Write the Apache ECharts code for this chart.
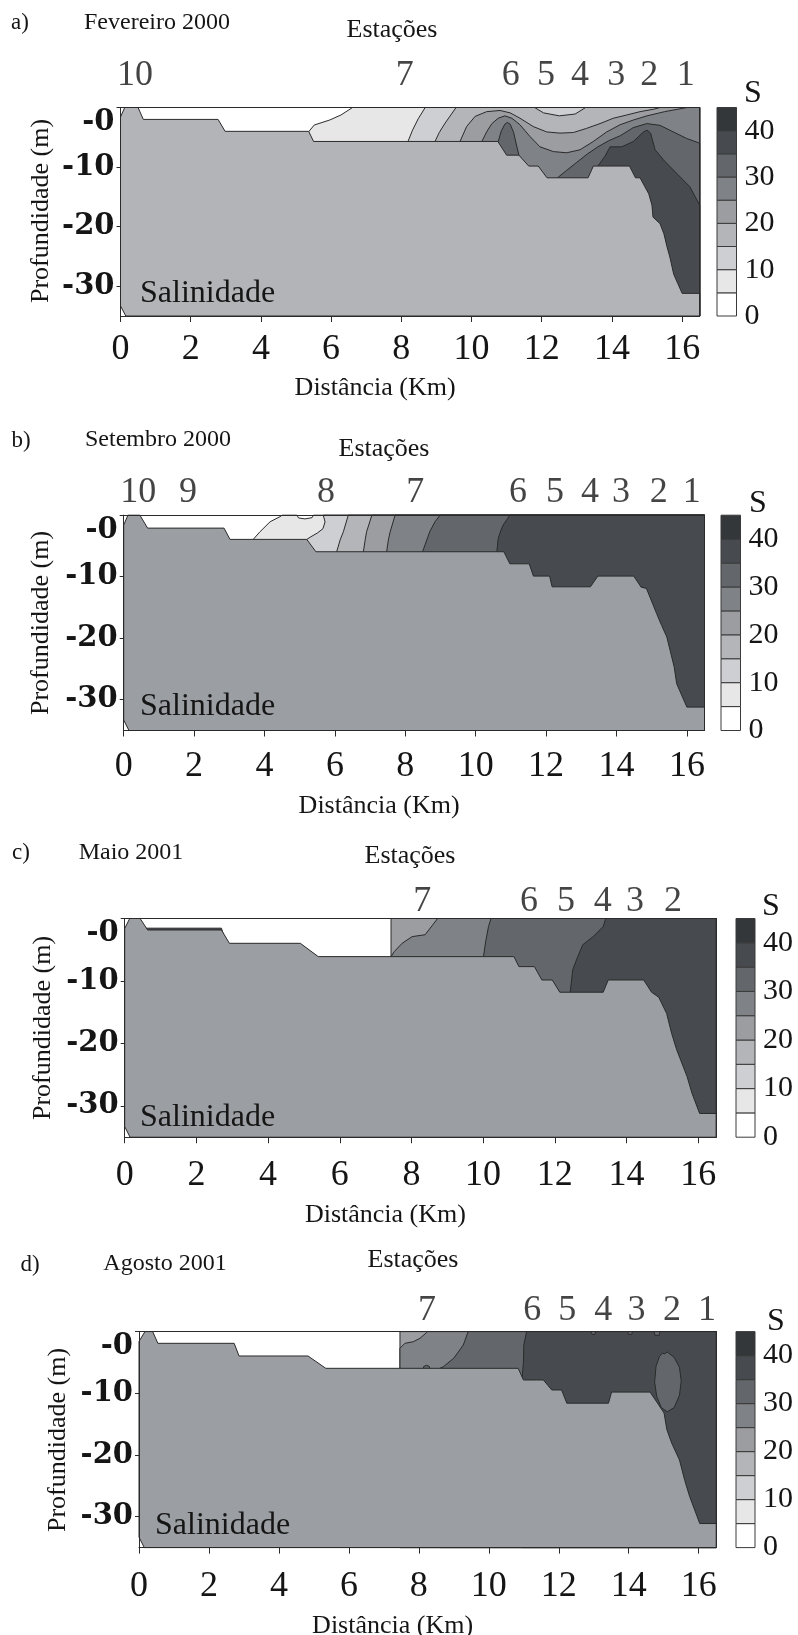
<!DOCTYPE html>
<html>
<head>
<meta charset="utf-8">
<script src="https://cdn.jsdelivr.net/npm/echarts@6/dist/echarts.min.js"></script>
<style>
  html, body { margin: 0; padding: 0; background: #ffffff; }
  #chart { width: 798px; height: 1635px; }
</style>
</head>
<body>
<div id="chart"></div>
<script>
// ---- axes and colour scale -------------------------------------------
const xTicks = [0, 2, 4, 6, 8, 10, 12, 14, 16];
const yTicks = [-30, -20, -10, 0];
const scaleTicks = [0, 10, 20, 30, 40];
const scaleLevels = [0, 5, 10, 15, 20, 25, 30, 35, 40, 45];
const scaleColors = ['#ffffff', '#e7e7e8', '#cecfd2', '#b4b5b8', '#9b9da1',
                     '#7f8286', '#63676b', '#474b4f', '#33373a'];

// ---- a) Fevereiro 2000 -----------------------------------------------
const febStationKm = [0.41, 8.1, 11.12, 12.12, 13.09, 14.12, 15.06, 16.1];
const febStationName = ['10', '7', '6', '5', '4', '3', '2', '1'];
const febBottom = [[0.15,-35],[0,-33.3],[0,-1.6],[0.12,0],[0.5,0],[0.65,-2.0],[2.78,-2.0],[2.98,-4.0],
  [5.36,-4.0],[5.5,-5.7],[10.75,-5.7],[11.0,-8.0],[11.35,-8.0],[11.63,-9.83],[11.9,-9.83],[12.15,-11.8],
  [13.32,-11.8],[13.47,-9.83],[14.5,-9.83],[14.67,-11.8],[14.8,-11.8],[15.05,-14.5],[15.14,-16.4],
  [15.17,-18.4],[15.37,-19.5],[15.48,-21.2],[15.57,-23.4],[15.65,-25.1],[15.76,-28.0],[16.0,-31.2],
  [16.5,-31.2],[16.5,-35]];
const febS5 = [[5.36,-35],[5.36,-4.07],[5.52,-2.94],[5.96,-2.1],[6.28,-1.26],[6.61,0],[16.5,0],[16.5,-35]];
const febS10 = [[8.19,-35],[8.19,-5.7],[8.32,-3.8],[8.48,-1.9],[8.68,0],[16.5,0],[16.5,-35]];
const febS15 = [[8.96,-35],[8.96,-5.7],[9.08,-4.2],[9.25,-2.6],[9.56,0],[11.8,0],[12.05,-0.9],[12.5,-1.4],
  [12.95,-1.1],[13.25,0],[16.5,0],[16.5,-35]];
const febS20 = [[9.67,-35],[9.67,-5.74],[9.86,-3.2],[10.1,-1.5],[10.43,-0.7],[10.81,-0.5],[11.1,-0.9],
  [11.38,-1.8],[11.76,-3.2],[12.14,-4.1],[12.52,-4.3],[12.9,-4.2],[13.28,-3.5],[13.66,-2.7],[14.04,-1.8],
  [14.42,-1.26],[14.8,-0.7],[15.18,-0.3],[15.37,0],[16.5,0],[16.5,-35]];
const febS25 = [[10.29,-35],[10.29,-5.74],[10.43,-4.1],[10.58,-2.7],[10.76,-1.8],[10.95,-1.4],[11.15,-1.8],
  [11.38,-2.9],[11.67,-4.9],[11.95,-6.6],[12.33,-7.4],[12.71,-7.6],[13.09,-7.1],[13.47,-5.7],[13.85,-4.1],
  [14.23,-2.9],[14.61,-2.1],[15.0,-1.4],[15.5,-0.7],[16.14,0],[16.5,0],[16.5,-35]];
const febS30Crest = [[10.76,-35],[10.76,-5.74],[10.85,-3.9],[10.95,-2.8],[11.02,-2.5],[11.1,-2.8],
  [11.2,-4.2],[11.28,-6.3],[11.35,-8.0],[11.35,-35]];
const febS30 = [[12.45,-35],[12.45,-11.8],[12.7,-10.6],[13.0,-9.2],[13.3,-7.8],[13.6,-6.6],[13.9,-5.6],
  [14.25,-4.7],[14.6,-3.4],[14.99,-2.7],[15.37,-3.0],[15.75,-4.1],[16.13,-5.2],[16.5,-6.0],[16.5,-35]];
const febS35 = [[13.6,-35],[13.6,-9.83],[13.8,-8.2],[13.95,-6.6],[14.28,-6.6],[14.61,-5.7],[14.9,-4.1],
  [15.0,-3.8],[15.1,-4.3],[15.23,-7.1],[15.47,-8.8],[15.85,-11.1],[16.22,-13.3],[16.5,-16.4],[16.5,-35]];

// ---- b) Setembro 2000 ------------------------------------------------
const setStationKm = [0.41, 1.83, 5.75, 8.28, 11.2, 12.25, 13.25, 14.13, 15.2, 16.14];
const setStationName = ['10', '9', '8', '7', '6', '5', '4', '3', '2', '1'];
const setBottom = [[0.15,-35],[0,-33.3],[0,-1.6],[0.12,0],[0.46,0],[0.68,-2.1],[2.85,-2.1],[3.02,-3.93],
  [5.2,-3.93],[5.46,-5.94],[10.8,-5.94],[10.97,-7.9],[11.52,-7.9],[11.64,-9.9],[12.1,-9.9],[12.17,-11.64],
  [13.26,-11.64],[13.47,-9.9],[14.49,-9.9],[14.7,-11.7],[14.85,-11.9],[15.14,-16.0],[15.28,-17.9],
  [15.43,-19.8],[15.64,-24.7],[15.71,-27.4],[16.0,-31.2],[16.5,-31.2],[16.5,-35]];
const setS5 = [[3.68,-35],[3.68,-3.93],[3.87,-2.7],[4.16,-1.06],[4.44,-0.24],[4.5,0],[4.92,0],[4.97,-0.45],
  [5.15,-0.6],[5.35,-0.4],[5.39,0],[16.5,0],[16.5,-35]];
const setS10 = [[5.2,-35],[5.2,-3.93],[5.32,-3.5],[5.5,-2.9],[5.66,-2.2],[5.72,-1.1],[5.67,0],[16.5,0],[16.5,-35]];
const setS15 = [[6.05,-35],[6.05,-5.94],[6.15,-4.0],[6.24,-2.7],[6.38,0],[16.5,0],[16.5,-35]];
const setS20 = [[6.81,-35],[6.81,-5.94],[6.86,-4.0],[6.9,-2.7],[7.05,0],[16.5,0],[16.5,-35]];
const setS25 = [[7.47,-35],[7.47,-5.94],[7.52,-4.0],[7.57,-2.7],[7.71,0],[16.5,0],[16.5,-35]];
const setS30 = [[8.49,-35],[8.49,-5.94],[8.6,-4.2],[8.7,-2.6],[8.85,-1.0],[8.99,0],[16.5,0],[16.5,-35]];
const setS35 = [[10.6,-35],[10.6,-5.94],[10.64,-3.76],[10.72,-2.4],[10.78,-1.6],[10.97,0],[16.5,0],[16.5,-35]];

// ---- c) Maio 2001 ----------------------------------------------------
const maiStationKm = [8.3, 11.28, 12.31, 13.34, 14.24, 15.3];
const maiStationName = ['7', '6', '5', '4', '3', '2'];
const maiBottom = [[0.15,-35],[0,-33.3],[0,-1.6],[0.14,0],[0.43,0],[0.64,-1.84],[2.7,-1.84],[2.92,-3.97],
  [4.9,-3.97],[5.4,-6.1],[10.86,-6.1],[11.0,-7.7],[11.43,-7.7],[11.64,-9.84],[11.93,-9.84],[12.14,-11.8],
  [13.35,-11.8],[13.49,-9.84],[14.48,-9.84],[14.7,-11.8],[14.9,-12.6],[15.12,-15.2],[15.26,-18.4],
  [15.4,-21.0],[15.69,-25.3],[15.83,-28.0],[16.04,-31.2],[16.5,-31.2],[16.5,-35]];
const maiS20 = [[7.43,-35],[7.43,0],[16.5,0],[16.5,-35]];
const maiS25 = [[7.43,-35],[7.43,-6.1],[7.52,-5.3],[7.74,-3.97],[8.02,-2.9],[8.38,-2.6],[8.59,-1.05],
  [8.73,0],[16.5,0],[16.5,-35]];
const maiS30 = [[10.01,-35],[10.01,-6.1],[10.08,-3.4],[10.15,-1.3],[10.22,0],[16.5,0],[16.5,-35]];
const maiS35 = [[12.43,-35],[12.43,-11.8],[12.5,-8.2],[12.64,-6.1],[12.78,-4.2],[13.07,-2.9],[13.35,-1.3],
  [13.42,0],[16.5,0],[16.5,-35]];
const maiS35Strip = [[0.55,-1.55],[2.7,-1.55],[2.75,-2.6],[0.6,-2.6]];

// ---- d) Agosto 2001 --------------------------------------------------
const agoStationKm = [8.23, 11.24, 12.24, 13.27, 14.22, 15.24, 16.24];
const agoStationName = ['7', '6', '5', '4', '3', '2', '1'];
const agoBottom = [[0.15,-35],[0,-33.3],[0,-1.6],[0.17,0],[0.39,0],[0.54,-1.9],[2.72,-1.9],[2.86,-3.95],
  [4.83,-3.95],[5.34,-5.95],[10.84,-5.95],[10.99,-7.84],[11.56,-7.84],[11.8,-9.46],[12.08,-9.46],
  [12.23,-11.6],[13.42,-11.6],[13.51,-9.8],[14.61,-9.8],[14.8,-11.4],[15.01,-13.2],[15.09,-15.9],
  [15.23,-18.1],[15.45,-20.8],[15.6,-24.1],[15.74,-26.7],[16.03,-31.1],[16.5,-31.1],[16.5,-35]];
const agoS20 = [[7.46,-35],[7.46,0],[16.5,0],[16.5,-35]];
const agoS25 = [[7.46,-35],[7.46,-2.7],[7.6,-1.9],[7.84,-1.64],[8.03,-1.09],[8.22,-0.17],[8.25,0],
  [16.5,0],[16.5,-35]];
const agoS30 = [[8.6,-35],[8.6,-5.95],[8.7,-5.7],[9.0,-4.3],[9.27,-2.17],[9.41,0],[16.5,0],[16.5,-35]];
const agoS30Bump = [[8.12,-6.2],[8.14,-5.65],[8.22,-5.45],[8.3,-5.65],[8.32,-6.2]];
const agoS35 = [[10.95,-35],[10.95,-7.6],[10.99,-5.0],[11.0,-2.17],[11.08,0],[16.5,0],[16.5,-35]];
const agoLens = [[15.1,-3.3],[15.3,-4.2],[15.45,-5.8],[15.5,-8.0],[15.45,-10.3],[15.3,-12.3],[15.1,-13.0],
  [14.93,-12.3],[14.8,-10.5],[14.74,-8.2],[14.78,-5.6],[14.88,-4.0],[14.97,-3.5],[15.03,-3.6]];
const agoSurfaceA = [[12.92,0],[12.95,-0.45],[13.03,-0.45],[13.06,0]];
const agoSurfaceB = [[13.97,0],[14.0,-0.45],[14.08,-0.45],[14.11,0]];
const agoSurfaceC = [[14.72,0],[14.75,-0.6],[14.87,-0.6],[14.9,0]];

// ---- panel assembly ----------------------------------------------------
const SERIF = '"Liberation Serif", "Times New Roman", serif';
const WIDE = '"DejaVu Serif", serif';
const INK = '#151515';
const LINE = '#2a2a2a';

const panels = [
  { tag: 'a)', month: 'Fevereiro 2000', stationKm: febStationKm, stationName: febStationName,
    bottom: febBottom, bedColor: '#b3b4b7',
    regions: [[5, febS5], [10, febS10], [15, febS15], [20, febS20], [25, febS25],
              [30, febS30Crest], [30, febS30], [35, febS35]],
    box: { left: 120.5, top: 107.5, width: 579.2, height: 208.5 }, bar: { left: 717, width: 19.5 },
    xMargin: 16, xNameY: 388, stationGap: 13, s: [753, 94], sal: [140, 294],
    tagPos: [20, 23], monthPos: [157, 23], estPos: [392, 30], yNamePos: [41, 211] },
  { tag: 'b)', month: 'Setembro 2000', stationKm: setStationKm, stationName: setStationName,
    bottom: setBottom, bedColor: '#9b9ea2',
    regions: [[5, setS5], [10, setS10], [15, setS15], [20, setS20], [25, setS25], [30, setS30], [35, setS35]],
    box: { left: 123.7, top: 515.2, width: 580.8, height: 215.3 }, bar: { left: 721, width: 19.5 },
    xMargin: 18, xNameY: 806, stationGap: 4, s: [758, 504], sal: [140, 707],
    tagPos: [21, 441], monthPos: [158, 440], estPos: [384, 449], yNamePos: [41, 623] },
  { tag: 'c)', month: 'Maio 2001', stationKm: maiStationKm, stationName: maiStationName,
    bottom: maiBottom, bedColor: '#9b9ea2',
    regions: [[20, maiS20], [25, maiS25], [30, maiS30], [35, maiS35], [35, maiS35Strip]],
    box: { left: 124.7, top: 918.5, width: 591.4, height: 218.7 }, bar: { left: 736, width: 19 },
    xMargin: 20, xNameY: 1215, stationGap: -2, s: [771, 907], sal: [140, 1118],
    tagPos: [21, 853], monthPos: [131, 853], estPos: [410, 856], yNamePos: [43, 1028] },
  { tag: 'd)', month: 'Agosto 2001', stationKm: agoStationKm, stationName: agoStationName,
    bottom: agoBottom, bedColor: '#9b9ea2',
    regions: [[20, agoS20], [25, agoS25], [30, agoS30], [30, agoS30Bump], [35, agoS35], [30, agoLens],
              [30, agoSurfaceA], [30, agoSurfaceB], [30, agoSurfaceC]],
    box: { left: 139, top: 1331.6, width: 577.2, height: 216 }, bar: { left: 736, width: 19 },
    xMargin: 21, xNameY: 1626, stationGap: 3, s: [776, 1322], sal: [155, 1526],
    tagPos: [30, 1265], monthPos: [165, 1264], estPos: [413, 1260], yNamePos: [58, 1440] }
];

function bandColor(level) {
  return scaleColors[scaleLevels.indexOf(level)];
}

function text(x, y, str, size, extra) {
  const o = extra || {};
  const align = o.align || 'center';
  return {
    type: 'text', x: x, y: y, rotation: o.rotation || 0, silent: true, z: 100,
    style: {
      text: str, fontSize: size, fontFamily: o.family || SERIF, fontWeight: o.weight || 'normal',
      fill: INK, align: align, textAlign: align, verticalAlign: 'middle', textVerticalAlign: 'middle'
    }
  };
}

const grids = [], xAxes = [], yAxes = [], series = [], graphics = [];

panels.forEach((p, i) => {
  const g = i * 2;
  grids.push(Object.assign({ containLabel: false, outerBoundsMode: 'none', show: false }, p.box));
  grids.push({ containLabel: false, outerBoundsMode: 'none', show: false,
    left: p.bar.left, width: p.bar.width, top: p.box.top, height: p.box.height });

  const xi = i * 3, yi = i * 3;
  // section: bottom axis with ticks, top frame line
  xAxes.push({
    gridIndex: g, type: 'value', min: 0, max: 16.5, position: 'bottom', z: 5,
    axisLine: { show: true, onZero: false, lineStyle: { color: LINE, width: 1 } },
    axisTick: { show: true, customValues: xTicks, length: 6, lineStyle: { color: LINE } },
    axisLabel: { customValues: xTicks, margin: p.xMargin, fontFamily: SERIF, fontSize: 36, color: INK },
    splitLine: { show: false }
  });
  xAxes.push({
    gridIndex: g, type: 'value', min: 0, max: 16.5, position: 'top', z: 5,
    axisLine: { show: true, onZero: false, lineStyle: { color: LINE, width: 1 } },
    axisTick: { show: false }, axisLabel: { show: false }, splitLine: { show: false }
  });
  // colour scale: horizontal extent only
  xAxes.push({ gridIndex: g + 1, type: 'value', min: 0, max: 1, show: false });

  yAxes.push({
    gridIndex: g, type: 'value', min: -35, max: 0, position: 'left', z: 5,
    axisLine: { show: true, onZero: false, lineStyle: { color: LINE, width: 1 } },
    axisTick: { show: true, customValues: yTicks, length: 4, lineStyle: { color: LINE } },
    axisLabel: {
      customValues: yTicks, margin: 6, fontFamily: WIDE, fontSize: 29, fontWeight: 'bold', color: INK,
      formatter: v => (v === 0 ? '{top|-0}' : String(v)),
      rich: { top: { padding: [30, 0, 0, 0], fontFamily: WIDE, fontSize: 29, fontWeight: 'bold', color: INK } }
    },
    splitLine: { show: false }
  });
  yAxes.push({
    gridIndex: g, type: 'value', min: -35, max: 0, position: 'right', z: 5,
    axisLine: { show: true, onZero: false, lineStyle: { color: LINE, width: 1 } },
    axisTick: { show: false }, axisLabel: { show: false }, splitLine: { show: false }
  });
  yAxes.push({
    gridIndex: g + 1, type: 'value', min: 0, max: 45, position: 'right',
    axisLine: { show: false }, axisTick: { show: false }, splitLine: { show: false },
    axisLabel: { customValues: scaleTicks, margin: 8, fontFamily: SERIF, fontSize: 30, color: INK }
  });

  // salinity bands, then the sea bed on top
  const shapes = p.regions.map(r => ({ level: r[0], poly: r[1] }));
  shapes.push({ bed: true, poly: p.bottom });
  series.push({
    type: 'custom', name: 'Salinidade ' + p.month, coordinateSystem: 'cartesian2d',
    xAxisIndex: xi, yAxisIndex: yi, silent: true, animation: false, z: 1,
    data: shapes.map(s => s.poly[0]),
    renderItem: (params, api) => {
      const s = shapes[params.dataIndex];
      return {
        type: 'polygon', z2: params.dataIndex,
        shape: { points: s.poly.map(pt => api.coord(pt)) },
        style: { fill: s.bed ? p.bedColor : bandColor(s.level), stroke: LINE, lineWidth: 1 }
      };
    }
  });

  // station numbers above the section
  series.push({
    type: 'scatter', name: 'Estações ' + p.month, xAxisIndex: xi, yAxisIndex: yi,
    symbol: 'circle', symbolSize: 1, itemStyle: { color: 'rgba(0,0,0,0)' },
    silent: true, animation: false, clip: false, z: 6,
    data: p.stationKm.map((k, j) => ({ value: [k, 0], name: p.stationName[j] })),
    label: { show: true, position: 'top', distance: p.stationGap, formatter: '{b}',
      fontFamily: SERIF, fontSize: 36, color: INK }
  });

  // colour scale
  series.push({
    type: 'custom', name: 'S ' + p.month, coordinateSystem: 'cartesian2d',
    xAxisIndex: xi + 2, yAxisIndex: yi + 2, silent: true, animation: false,
    encode: { x: 0, y: [1, 2] },
    data: scaleColors.map((c, j) => [0, scaleLevels[j], scaleLevels[j + 1]]),
    renderItem: (params, api) => {
      const a = api.coord([0, api.value(1)]);
      const b = api.coord([1, api.value(2)]);
      return {
        type: 'rect',
        shape: { x: a[0], y: b[1], width: b[0] - a[0], height: a[1] - b[1] },
        style: { fill: scaleColors[params.dataIndex], stroke: '#3a3a3a', lineWidth: 1 }
      };
    }
  });

  graphics.push(text(p.tagPos[0], p.tagPos[1], p.tag, 23));
  graphics.push(text(p.monthPos[0], p.monthPos[1], p.month, 24));
  graphics.push(text(p.estPos[0], p.estPos[1], 'Estações', 26));
  graphics.push(text(p.s[0], p.s[1], 'S', 32));
  graphics.push(text(p.sal[0], p.sal[1], 'Salinidade', 32, { align: 'left' }));
  graphics.push(text(p.yNamePos[0], p.yNamePos[1], 'Profundidade (m)', 26, { rotation: Math.PI / 2 }));
  graphics.push(text(p.box.left + p.box.width / 2 - 35, p.xNameY, 'Distância (Km)', 26));
});

const chart = echarts.init(document.getElementById('chart'), null, { renderer: 'canvas' });
chart.setOption({
  animation: false,
  backgroundColor: '#ffffff',
  grid: grids,
  xAxis: xAxes,
  yAxis: yAxes,
  series: series,
  graphic: graphics
});
</script>
</body>
</html>
